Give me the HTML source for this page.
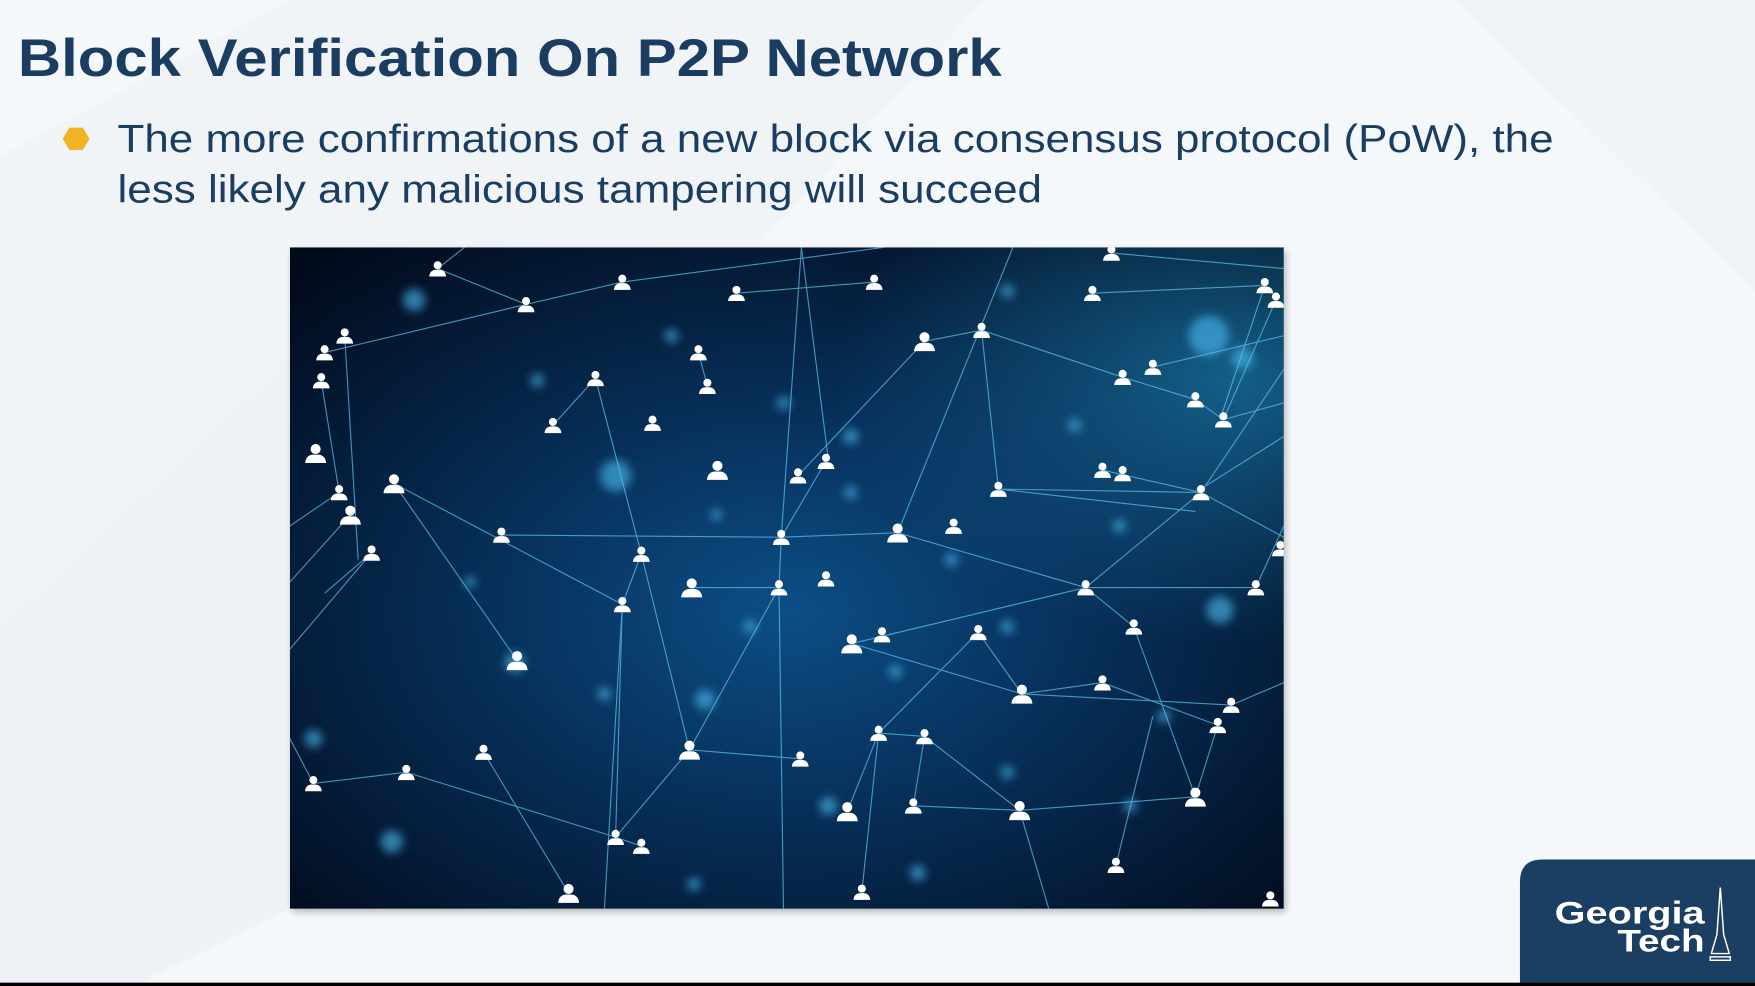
<!DOCTYPE html>
<html><head><meta charset="utf-8"><style>
html,body{margin:0;padding:0;width:1755px;height:986px;overflow:hidden;background:#f4f7fa}
svg{display:block}
</style></head><body>
<svg width="1755" height="986" viewBox="0 0 1568 881" preserveAspectRatio="none" xmlns="http://www.w3.org/2000/svg">
<defs>
<radialGradient id="bg" cx="0.5" cy="0.55" r="0.7">
<stop offset="0" stop-color="#0c4e86"/><stop offset="0.5" stop-color="#062b52"/><stop offset="1" stop-color="#020b1c"/>
</radialGradient>
<radialGradient id="bgr" cx="0.95" cy="0.2" r="0.4">
<stop offset="0" stop-color="#1a7fb0" stop-opacity="0.7"/><stop offset="1" stop-color="#1a6fa0" stop-opacity="0"/>
</radialGradient>
<filter id="blur" x="-1" y="-1" width="3" height="3"><feGaussianBlur stdDeviation="4"/></filter>
<filter id="sh" x="-0.05" y="-0.05" width="1.1" height="1.1"><feGaussianBlur stdDeviation="3"/></filter>
<symbol id="p" viewBox="-8 -10 16 16" overflow="visible">
<circle cx="0" cy="-5" r="3.6" fill="#fff"/>
<path d="M-7.5 5 Q-7 -0.5 -2 -1 L2 -1 Q7 -0.5 7.5 5 Z" fill="#fff"/>
</symbol>
<clipPath id="ic"><rect x="259" y="221" width="888" height="591"/></clipPath>
</defs>
<rect width="1568" height="881" fill="#f5f8fa"/>
<polygon points="0,140 260,0 880,0 640,260 0,560" fill="#f0f4f7"/>
<polygon points="0,560 259,320 259,812 120,881 0,881" fill="#eef2f6"/>
<polygon points="1300,0 1568,0 1568,260" fill="#f0f4f7"/>
<text x="16" y="68" font-family="Liberation Sans, Arial, sans-serif" font-weight="bold" font-size="47" fill="#1b3d62" textLength="879" lengthAdjust="spacingAndGlyphs">Block Verification On P2P Network</text>
<polygon points="62,114 74,114 80,124 74,134 62,134 56,124" fill="#f0b323"/>
<text x="105" y="136" font-family="Liberation Sans, Arial, sans-serif" font-size="35" fill="#1b3d62" textLength="1283" lengthAdjust="spacingAndGlyphs">The more confirmations of a new block via consensus protocol (PoW), the</text>
<text x="105" y="181" font-family="Liberation Sans, Arial, sans-serif" font-size="35" fill="#1b3d62" textLength="826" lengthAdjust="spacingAndGlyphs">less likely any malicious tampering will succeed</text>
<rect x="261" y="224" width="888" height="591" fill="#000" opacity="0.25" filter="url(#sh)"/>
<g clip-path="url(#ic)">
<rect x="259" y="221" width="888" height="591" fill="url(#bg)"/>
<rect x="259" y="221" width="888" height="591" fill="url(#bgr)"/>
<g fill="#46b4ea" opacity="0.65" filter="url(#blur)">
<circle cx="370" cy="268" r="10"/><circle cx="550" cy="425" r="14"/><circle cx="460" cy="592" r="9"/><circle cx="350" cy="752" r="10"/><circle cx="1090" cy="545" r="12"/><circle cx="1080" cy="300" r="18"/><circle cx="630" cy="625" r="9"/><circle cx="740" cy="720" r="8"/><circle cx="480" cy="340" r="6"/><circle cx="600" cy="300" r="6"/><circle cx="700" cy="360" r="6"/><circle cx="760" cy="390" r="7"/><circle cx="850" cy="500" r="6"/><circle cx="900" cy="690" r="6"/><circle cx="800" cy="600" r="6"/><circle cx="670" cy="560" r="6"/><circle cx="540" cy="620" r="6"/><circle cx="420" cy="520" r="5"/><circle cx="960" cy="380" r="6"/><circle cx="1000" cy="470" r="6"/><circle cx="1040" cy="640" r="6"/><circle cx="820" cy="780" r="7"/><circle cx="620" cy="790" r="6"/><circle cx="280" cy="660" r="8"/><circle cx="900" cy="260" r="6"/><circle cx="760" cy="440" r="6"/><circle cx="640" cy="460" r="5"/><circle cx="1010" cy="720" r="6"/><circle cx="900" cy="560" r="6"/><circle cx="1110" cy="320" r="10"/></g>
<g stroke="#62c6ee" stroke-width="1" opacity="0.7" fill="none">
<path d="M391 240 L470 272 L556 252 M470 272 L290 315 M391 240 L415 221 M556 252 L790 221 M658 262 L781 252 M976 262 L1130 255 M993 226 L1147 240 M1130 255 L1090 375 M1140 268 L1093 375"/>
<path d="M532 338 L573 495 M532 338 L494 380 M624 315 L632 345 M826 305 L877 295 L892 437 M826 305 L713 425 M877 295 L1003 337 M1003 337 L1068 357 L1093 375 L1147 360 M1030 328 L1147 300"/>
<path d="M308 300 L320 500 M287 340 L303 440 M352 432 L556 540 M352 432 L462 590 M303 440 L259 470 M313 460 L259 520 M332 494 L259 580 M332 494 L290 530"/>
<path d="M448 478 L698 480 L802 476 M698 480 L696 525 L618 525 M696 525 L616 670 M802 476 L905 221 M802 476 L970 525 M970 525 L1073 440 M970 525 L761 575 M970 525 L1013 560 M970 525 L1122 525"/>
<path d="M892 437 L1073 440 M892 437 L1068 457 M985 420 L1073 440 M1073 440 L1147 330 M1068 440 L1147 390 M1073 440 L1147 480"/>
<path d="M556 540 L550 748 M556 540 L573 495 M573 495 L616 670 M616 670 L715 678 M616 670 L550 748 M761 575 L913 620 L985 610 M913 620 L874 565 M913 620 L1100 630 M874 565 L785 655 L826 658 L911 724 L1068 712 M785 655 L757 725 M826 658 L816 720 L911 724"/>
<path d="M363 690 L550 748 M432 672 L508 798 M550 748 L573 756 M280 700 L363 690 M1068 712 L1088 648 M1100 630 L1147 610 M985 610 L1088 648 M1068 712 L1013 560 M997 773 L1030 640 M770 797 L785 655 M911 724 L937 812 M698 480 L716 221 M738 412 L698 480"/>
<path d="M540 812 L556 540 M716 221 L740 410 M1122 525 L1147 470 M259 660 L280 700 M700 812 L696 525"/>
</g>
<g>
<use href="#p" x="383" y="232" width="16" height="16"/><use href="#p" x="462" y="264" width="16" height="16"/><use href="#p" x="548" y="244" width="16" height="16"/><use href="#p" x="650" y="254" width="16" height="16"/><use href="#p" x="773" y="244" width="16" height="16"/><use href="#p" x="968" y="254" width="16" height="16"/><use href="#p" x="985" y="218" width="16" height="16"/><use href="#p" x="1122" y="247" width="16" height="16"/><use href="#p" x="1132" y="260" width="16" height="16"/>
<use href="#p" x="282" y="307" width="16" height="16"/><use href="#p" x="300" y="292" width="16" height="16"/><use href="#p" x="279" y="332" width="16" height="16"/><use href="#p" x="524" y="330" width="16" height="16"/><use href="#p" x="616" y="307" width="16" height="16"/><use href="#p" x="624" y="337" width="16" height="16"/><use href="#p" x="575" y="370" width="16" height="16"/><use href="#p" x="486" y="372" width="16" height="16"/><use href="#p" x="816" y="295" width="20" height="20"/><use href="#p" x="869" y="287" width="16" height="16"/><use href="#p" x="995" y="329" width="16" height="16"/><use href="#p" x="1022" y="320" width="16" height="16"/><use href="#p" x="1060" y="349" width="16" height="16"/><use href="#p" x="1085" y="367" width="16" height="16"/>
<use href="#p" x="272" y="395" width="20" height="20"/><use href="#p" x="342" y="422" width="20" height="20"/><use href="#p" x="295" y="432" width="16" height="16"/><use href="#p" x="303" y="450" width="20" height="20"/><use href="#p" x="631" y="410" width="20" height="20"/><use href="#p" x="705" y="417" width="16" height="16"/><use href="#p" x="730" y="404" width="16" height="16"/><use href="#p" x="884" y="429" width="16" height="16"/><use href="#p" x="977" y="412" width="16" height="16"/><use href="#p" x="1065" y="432" width="16" height="16"/><use href="#p" x="995" y="415" width="16" height="16"/>
<use href="#p" x="440" y="470" width="16" height="16"/><use href="#p" x="690" y="472" width="16" height="16"/><use href="#p" x="792" y="466" width="20" height="20"/><use href="#p" x="844" y="462" width="16" height="16"/><use href="#p" x="324" y="486" width="16" height="16"/><use href="#p" x="548" y="532" width="16" height="16"/><use href="#p" x="565" y="487" width="16" height="16"/><use href="#p" x="608" y="515" width="20" height="20"/><use href="#p" x="688" y="517" width="16" height="16"/><use href="#p" x="730" y="509" width="16" height="16"/><use href="#p" x="962" y="517" width="16" height="16"/><use href="#p" x="1114" y="517" width="16" height="16"/><use href="#p" x="1136" y="482" width="16" height="16"/>
<use href="#p" x="452" y="580" width="20" height="20"/><use href="#p" x="751" y="565" width="20" height="20"/><use href="#p" x="780" y="559" width="16" height="16"/><use href="#p" x="866" y="557" width="16" height="16"/><use href="#p" x="903" y="610" width="20" height="20"/><use href="#p" x="977" y="602" width="16" height="16"/><use href="#p" x="1005" y="552" width="16" height="16"/><use href="#p" x="1092" y="622" width="16" height="16"/><use href="#p" x="1080" y="640" width="16" height="16"/>
<use href="#p" x="355" y="682" width="16" height="16"/><use href="#p" x="424" y="664" width="16" height="16"/><use href="#p" x="606" y="660" width="20" height="20"/><use href="#p" x="707" y="670" width="16" height="16"/><use href="#p" x="777" y="647" width="16" height="16"/><use href="#p" x="818" y="650" width="16" height="16"/><use href="#p" x="901" y="714" width="20" height="20"/><use href="#p" x="1058" y="702" width="20" height="20"/><use href="#p" x="542" y="740" width="16" height="16"/><use href="#p" x="565" y="748" width="16" height="16"/><use href="#p" x="498" y="788" width="20" height="20"/><use href="#p" x="762" y="789" width="16" height="16"/><use href="#p" x="989" y="765" width="16" height="16"/><use href="#p" x="272" y="692" width="16" height="16"/><use href="#p" x="747" y="715" width="20" height="20"/><use href="#p" x="808" y="712" width="16" height="16"/><use href="#p" x="1127" y="795" width="16" height="16"/>
</g>
</g>
<path d="M1358 881 L1358 788 Q1358 768 1378 768 L1568 768 L1568 881 Z" fill="#1b3e63"/>
<text x="1523" y="825" text-anchor="end" font-family="Liberation Sans, Arial, sans-serif" font-weight="bold" font-size="28" fill="#fff" textLength="134" lengthAdjust="spacingAndGlyphs">Georgia</text>
<text x="1523" y="850" text-anchor="end" font-family="Liberation Sans, Arial, sans-serif" font-weight="bold" font-size="28" fill="#fff" textLength="78" lengthAdjust="spacingAndGlyphs">Tech</text>
<path d="M1537 793 L1540 835 L1545 852 L1529 852 L1534 835 Z M1528 855 L1546 855 L1546 858 L1528 858 Z" fill="none" stroke="#fff" stroke-width="1.3"/>
<rect x="0" y="878" width="1568" height="3" fill="#000"/>
</svg>
</body></html>
